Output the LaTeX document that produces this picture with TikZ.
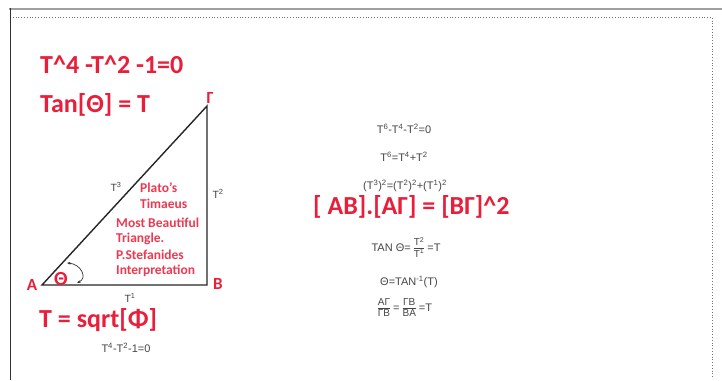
\documentclass[tikz,border=0pt]{standalone}
\usepackage{fontspec}
\setmainfont{Carlito}
\newfontfamily\arialf{Liberation Sans}
\usetikzlibrary{arrows.meta}
\definecolor{redc}{RGB}{232,30,58}
\definecolor{redl}{RGB}{236,58,82}
\definecolor{txtg}{RGB}{70,70,70}
\newcommand{\stfrac}[2]{\begin{tabular}[c]{@{}c@{}}#1\\[-1.5pt]\hline\noalign{\vskip1pt}#2\end{tabular}}
\begin{document}
\begin{tikzpicture}[x=1pt,y=-1pt,
  bigred/.style={text=redc,font=\bfseries\fontsize{26}{28}\selectfont,inner sep=0pt},
  midred/.style={text=redc,font=\bfseries\fontsize{17}{19}\selectfont,inner sep=0pt},
  smallred/.style={text=redl,font=\bfseries\fontsize{13.5}{15}\selectfont,inner sep=0pt,anchor=west},
  eq/.style={text=txtg,font=\arialf\fontsize{11}{13}\selectfont,inner sep=0pt},
  edge/.style={text=txtg,font=\arialf\fontsize{10.5}{12}\selectfont,inner sep=0pt}]
\useasboundingbox (0,0) rectangle (722,380);
\fill[white] (0,0) rectangle (722,380);
% page frame
\draw[gray!75, line width=2.2pt] (9,9) -- (722,9);
\draw[black!55, dotted, line width=0.8pt] (10,17) -- (712,17) -- (712,378);
\draw[black!80, line width=0.9pt] (10,8) -- (10,380);
% triangle
\coordinate (A) at (42,285);
\coordinate (B) at (207,285);
\coordinate (G) at (207,106);
\draw[line width=1.4pt, black!85] (A) -- (B) -- (G) -- cycle;
% angle arrow
\coordinate (a1) at (67,263);
\coordinate (a2) at (77,283);
\draw[black!80, line width=0.7pt, {Stealth[length=3.5pt]}-{Stealth[length=3.5pt]}] (a1) .. controls (81,264) and (88,278) .. (a2);
% vertex labels
\node[midred] (lA) at (32,285) {A};
\node[midred] (lB) at (218,284) {B};
\node[midred] (lG) at (210,98) {Γ};
\node[midred, font=\bfseries\fontsize{20}{22}\selectfont] (lT) at (61,279) {Θ};
% edge labels
\node[edge] (e3) at (116,187) {T\textsuperscript{3}};
\node[edge] (e2) at (218,194) {T\textsuperscript{2}};
\node[edge] (e1) at (130,298) {T\textsuperscript{1}};
% red block
\node[smallred] (p1) at (140,188) {Plato's};
\node[smallred] (p2) at (140,204) {Timaeus};
\node[smallred] (p3) at (116,223) {Most Beautiful};
\node[smallred] (p4) at (116,239) {Triangle.};
\node[smallred] (p5) at (116,255) {P.Stefanides};
\node[smallred] (p6) at (116,271) {Interpretation};
% big red formulas
\node[bigred, anchor=west] (f1) at (40,65) {T\^{}4 -T\^{}2 -1=0};
\node[bigred, anchor=west] (f2) at (40,105) {Tan[Θ] = T};
\node[bigred, anchor=west] (f3) at (39,320) {T = sqrt[Φ]};
\node[bigred, anchor=west] (f4) at (313,207) {[ AB].[AΓ] = [BΓ]\^{}2};
% small equations
\node[eq] (s0) at (126,348) {T\textsuperscript{4}-T\textsuperscript{2}-1=0};
\node[eq] (s1) at (404,129) {T\textsuperscript{6}-T\textsuperscript{4}-T\textsuperscript{2}=0};
\node[eq] (s2) at (404,157) {T\textsuperscript{6}=T\textsuperscript{4}+T\textsuperscript{2}};
\node[eq] (s3) at (405,186) {(T\textsuperscript{3})\textsuperscript{2}=(T\textsuperscript{2})\textsuperscript{2}+(T\textsuperscript{1})\textsuperscript{2}};
\node[eq] (s4) at (406,249) {TAN Θ= {\fontsize{10}{11}\selectfont\stfrac{T\textsuperscript{2}}{T\textsuperscript{1}}} =T};
\node[eq] (s5) at (409,282) {Θ=TAN\textsuperscript{-1}(T)};
\node[eq] (s6) at (405,309) {{\fontsize{10}{11}\selectfont\stfrac{AΓ}{ΓB}} = {\fontsize{10}{11}\selectfont\stfrac{ΓB}{BA}} =T};
\end{tikzpicture}
\end{document}
